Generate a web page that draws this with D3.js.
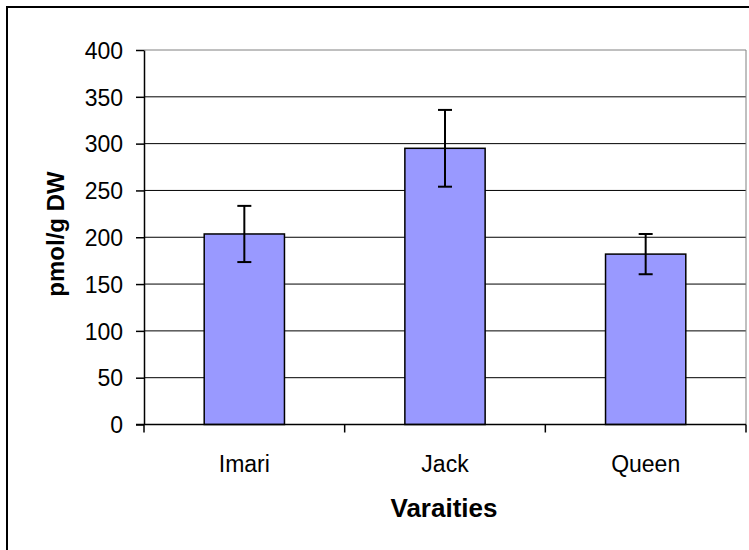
<!DOCTYPE html>
<html><head><meta charset="utf-8">
<script src="https://cdn.jsdelivr.net/npm/d3@7"></script>
<style>body{margin:0;background:#fff}svg{display:block}text{font-family:"Liberation Sans",Arial,sans-serif}</style>
</head><body><svg id="c" width="749" height="550"></svg>
<script>
const categories = ["Imari", "Jack", "Queen"];
const values = [203.5, 295, 182];
const errors = [30, 41, 21.5];
const yTicks = [0, 50, 100, 150, 200, 250, 300, 350, 400];

(function () {
const svg = d3.select("#c");
svg.append("rect").attr("x", 7).attr("y", 7).attr("width", 900).attr("height", 700)
  .attr("fill", "#fff").attr("stroke", "#000").attr("stroke-width", 2);

const pLeft = 144, pRight = 746, pTop = 50, pBottom = 424.5;
const x = d3.scaleBand().domain(categories).range([pLeft, pRight]).paddingInner(0.6).paddingOuter(0.3);
const y = d3.scaleLinear().domain([0, 400]).range([pBottom, pTop]);

// gridlines
svg.append("g").selectAll("line").data(yTicks.filter(d => d > 0)).join("line")
  .attr("x1", pLeft).attr("x2", pRight).attr("y1", d => y(d)).attr("y2", d => y(d))
  .attr("stroke", d => d === 400 ? "#808080" : "#000").attr("stroke-width", 1);
svg.append("line").attr("x1", pRight).attr("x2", pRight).attr("y1", pTop).attr("y2", pBottom)
  .attr("stroke", "#808080").attr("stroke-width", 1);

// bars
svg.append("g").selectAll("rect").data(categories).join("rect")
  .attr("x", d => x(d)).attr("width", x.bandwidth())
  .attr("y", (d, i) => y(values[i])).attr("height", (d, i) => pBottom - y(values[i]))
  .attr("fill", "#9999FF").attr("stroke", "#000").attr("stroke-width", 1.5);

// error bars
const eb = svg.append("g").attr("stroke", "#000").attr("stroke-width", 2);
categories.forEach((c, i) => {
  const cx = x(c) + x.bandwidth() / 2;
  const hi = y(values[i] + errors[i]), lo = y(values[i] - errors[i]);
  eb.append("line").attr("x1", cx).attr("x2", cx).attr("y1", hi).attr("y2", lo);
  eb.append("line").attr("x1", cx - 7).attr("x2", cx + 7).attr("y1", hi).attr("y2", hi);
  eb.append("line").attr("x1", cx - 7).attr("x2", cx + 7).attr("y1", lo).attr("y2", lo);
});

// y axis
const yAxis = d3.axisLeft(y).tickValues(yTicks).tickSize(8).tickSizeOuter(0).tickPadding(13);
const gy = svg.append("g").attr("transform", `translate(${pLeft},0)`).call(yAxis);
gy.select(".domain").attr("stroke", "#000").attr("stroke-width", 1.5);
gy.selectAll(".tick line").attr("stroke", "#000").attr("stroke-width", 1.5);
gy.selectAll("text").attr("font-size", 23).attr("fill", "#000").attr("dy", "0.36em")
  .style("font-family", '"Liberation Sans",Arial,sans-serif');

// x axis
const xEdge = d3.scaleLinear().domain([0, 3]).range([pLeft, pRight]);
svg.append("line").attr("x1", pLeft - 8).attr("x2", pRight).attr("y1", pBottom).attr("y2", pBottom)
  .attr("stroke", "#000").attr("stroke-width", 1.5);
svg.append("g").selectAll("line").data([0, 1, 2, 3]).join("line")
  .attr("x1", d => xEdge(d)).attr("x2", d => xEdge(d)).attr("y1", pBottom).attr("y2", pBottom + 8)
  .attr("stroke", "#000").attr("stroke-width", 1.5);
svg.append("g").selectAll("text").data(categories).join("text")
  .attr("x", d => x(d) + x.bandwidth() / 2).attr("y", 471.5)
  .attr("text-anchor", "middle").attr("font-size", 23).text(d => d);

// axis titles
svg.append("text").attr("x", 444).attr("y", 516.5).attr("text-anchor", "middle")
  .attr("font-size", 26).attr("font-weight", "bold").text("Varaities");
svg.append("text").attr("transform", "translate(64,234) rotate(-90)").attr("text-anchor", "middle")
  .attr("font-size", 24).attr("font-weight", "bold").text("pmol/g DW");
})();
</script></body></html>
